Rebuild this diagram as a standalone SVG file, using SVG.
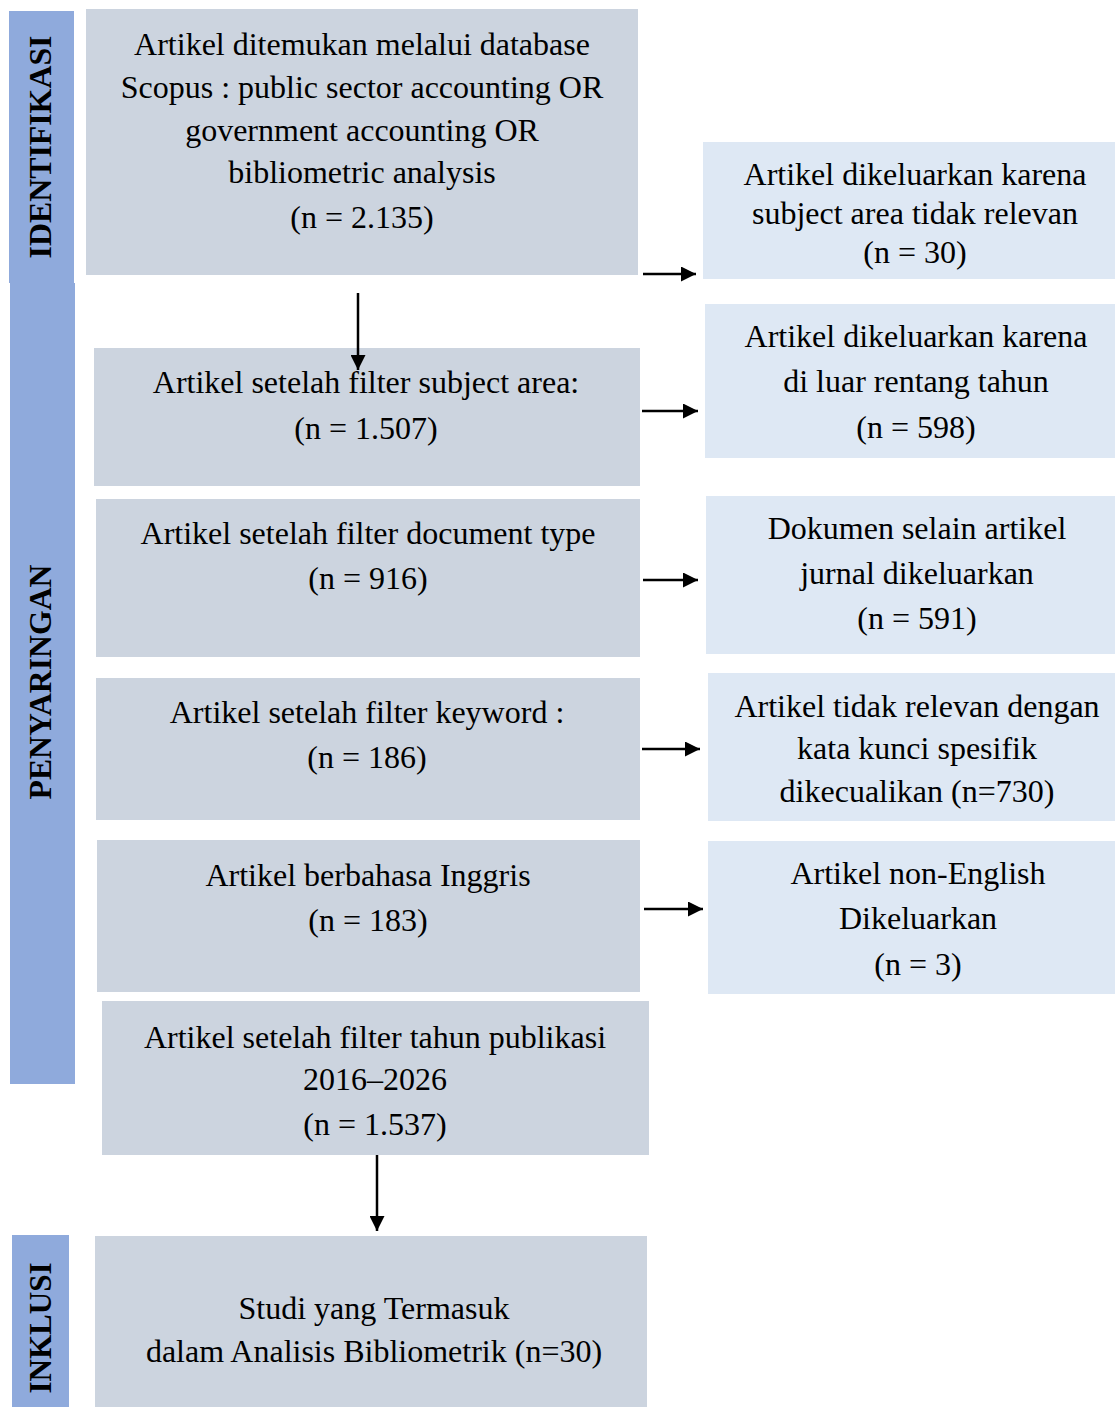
<svg xmlns="http://www.w3.org/2000/svg" width="1115" height="1407" viewBox="0 0 1115 1407">
<style>
.bar{fill:#8FAADC}
.g{fill:#CCD4DF}
.l{fill:#DEE8F4}
text{font-family:"Liberation Serif","Times New Roman",serif;font-size:32px;fill:#000;text-anchor:middle}
.v{font-weight:bold;font-size:32px}
.c{stroke:#000;stroke-width:2.5;fill:none;marker-end:url(#ah)}
</style>
<defs>
<marker id="ah" markerWidth="6" markerHeight="6" refX="6" refY="3" orient="auto" markerUnits="strokeWidth"><path d="M0,0 L6,3 L0,6 z" fill="#000"/></marker>
</defs>
<g id="stage-identifikasi"><rect class="bar" x="9" y="11" width="65" height="272"/><text class="v" transform="translate(51,147) rotate(-90)" textLength="223" lengthAdjust="spacingAndGlyphs">IDENTIFIKASI</text></g>
<g id="stage-penyaringan"><rect class="bar" x="10" y="283" width="65" height="801"/><text class="v" transform="translate(51,682) rotate(-90)" textLength="235" lengthAdjust="spacingAndGlyphs">PENYARINGAN</text></g>
<g id="stage-inklusi"><rect class="bar" x="12" y="1235" width="57" height="172"/><text class="v" transform="translate(51,1328) rotate(-90)" textLength="131" lengthAdjust="spacingAndGlyphs">INKLUSI</text></g>

<g id="n1"><rect class="g" x="86" y="9" width="552" height="266"/>
<text x="362" y="55">Artikel ditemukan melalui database</text>
<text x="362" y="98">Scopus : public sector accounting OR</text>
<text x="362" y="141">government accounting OR</text>
<text x="362" y="183">bibliometric analysis</text>
<text x="362" y="228">(n = 2.135)</text></g>
<g id="x1"><rect class="l" x="703" y="142" width="412" height="137"/>
<text x="915" y="185">Artikel dikeluarkan karena</text>
<text x="915" y="224">subject area tidak relevan</text>
<text x="915" y="263">(n = 30)</text></g>
<g id="n2"><rect class="g" x="94" y="348" width="546" height="138"/>
<text x="366" y="393">Artikel setelah filter subject area:</text>
<text x="366" y="439">(n = 1.507)</text></g>
<g id="x2"><rect class="l" x="705" y="304" width="410" height="154"/>
<text x="916" y="347">Artikel dikeluarkan karena</text>
<text x="916" y="392">di luar rentang tahun</text>
<text x="916" y="438">(n = 598)</text></g>
<g id="n3"><rect class="g" x="96" y="499" width="544" height="158"/>
<text x="368" y="544">Artikel setelah filter document type</text>
<text x="368" y="589">(n = 916)</text></g>
<g id="x3"><rect class="l" x="706" y="496" width="409" height="158"/>
<text x="917" y="539">Dokumen selain artikel</text>
<text x="917" y="584">jurnal dikeluarkan</text>
<text x="917" y="629">(n = 591)</text></g>
<g id="n4"><rect class="g" x="96" y="678" width="544" height="142"/>
<text x="367" y="723">Artikel setelah filter keyword :</text>
<text x="367" y="768">(n = 186)</text></g>
<g id="x4"><rect class="l" x="708" y="673" width="407" height="148"/>
<text x="917" y="717">Artikel tidak relevan dengan</text>
<text x="917" y="759">kata kunci spesifik</text>
<text x="917" y="802">dikecualikan (n=730)</text></g>
<g id="n5"><rect class="g" x="97" y="840" width="543" height="152"/>
<text x="368" y="886">Artikel berbahasa Inggris</text>
<text x="368" y="931">(n = 183)</text></g>
<g id="x5"><rect class="l" x="708" y="841" width="407" height="153"/>
<text x="918" y="884">Artikel non-English</text>
<text x="918" y="929">Dikeluarkan</text>
<text x="918" y="975">(n = 3)</text></g>
<g id="n6"><rect class="g" x="102" y="1001" width="547" height="154"/>
<text x="375" y="1048">Artikel setelah filter tahun publikasi</text>
<text x="375" y="1090">2016–2026</text>
<text x="375" y="1135">(n = 1.537)</text></g>
<g id="n7"><rect class="g" x="95" y="1236" width="552" height="171"/>
<text x="374" y="1319">Studi yang Termasuk</text>
<text x="374" y="1362">dalam Analisis Bibliometrik (n=30)</text></g>

<g id="connectors">
<line class="c" x1="643" y1="274" x2="696" y2="274"/>
<line class="c" x1="358" y1="293" x2="358" y2="370"/>
<line class="c" x1="642" y1="411" x2="698" y2="411"/>
<line class="c" x1="643" y1="580" x2="698" y2="580"/>
<line class="c" x1="642" y1="749" x2="700" y2="749"/>
<line class="c" x1="644" y1="909" x2="703" y2="909"/>
<line class="c" x1="377" y1="1155" x2="377" y2="1231"/>
</g>
</svg>
